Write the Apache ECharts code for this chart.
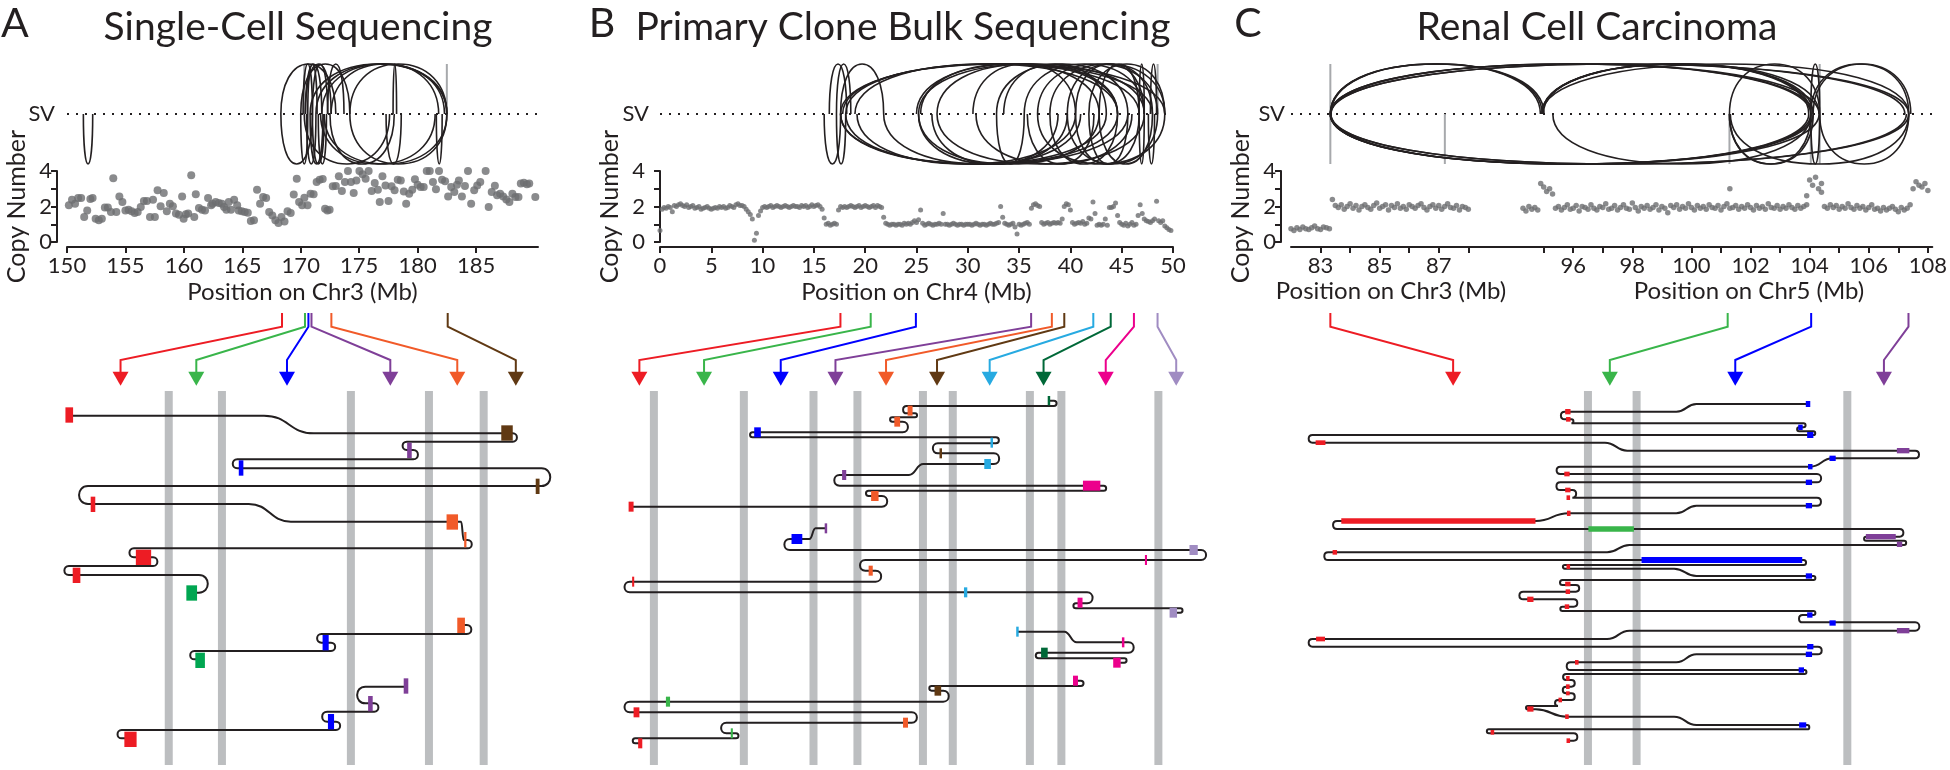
<!DOCTYPE html>
<html>
<head>
<meta charset="utf-8">
<script src="https://cdn.jsdelivr.net/npm/echarts@6.0.0/dist/echarts.min.js"></script>
<style>
  html, body { margin: 0; background: #fff; }
  #main { width: 1950px; height: 770px; }
</style>
</head>
<body>
<div id="main"></div>
<script>
const FONT = 'Lato, "Open Sans", sans-serif';
const INK = '#231f20';
const DOT = '#6d6e71';
const BAR = '#bcbec0';
const COLORS = {
  red: '#ed1c24', green: '#39b54a', dgreen: '#00a651', blue: '#0000ff', purple: '#7f3f98',
  orange: '#f15a29', brown: '#603913', cyan: '#27aae1', forest: '#006838', magenta: '#ec008c', lilac: '#a08cc2'
};

// ---- copy number, panel A (Mb, copy number)
const cnA = [
  [150.16,2.07],[150.43,2.38],[150.69,2.16],[150.95,2.48],[151.21,2.48],[151.47,1.41],[151.73,1.78],[152.0,2.42],
  [152.19,2.48],[152.45,1.31],[152.72,1.22],[152.98,1.31],[153.24,1.95],[153.5,1.95],[153.76,1.69],[153.96,3.59],
  [154.22,1.69],[154.48,2.57],[154.74,2.25],[155.0,1.78],[155.27,1.82],[155.53,1.73],[155.79,1.63],[156.05,1.69],
  [156.31,1.97],[156.58,2.31],[156.84,2.31],[157.1,1.41],[157.36,2.38],[157.52,1.41],[157.75,2.91],[158.01,2.01],
  [158.28,2.76],[158.54,1.73],[158.8,2.16],[159.06,2.01],[159.32,1.6],[159.58,1.54],[159.85,2.57],[159.98,1.31],
  [160.17,1.56],[160.37,1.6],[160.63,3.76],[160.89,1.41],[161.02,2.69],[161.29,1.92],[161.55,1.82],[161.81,1.78],
  [162.07,2.48],[162.33,2.07],[162.46,2.16],[162.72,2.25],[162.99,2.2],[163.25,2.16],[163.44,1.97],[163.64,1.82],
  [163.84,2.25],[164.03,1.82],[164.3,2.38],[164.56,2.07],[164.69,1.78],[164.95,1.73],[165.21,1.69],[165.47,1.65],
  [165.73,1.18],[166.0,1.22],[166.26,2.95],[166.52,2.16],[166.78,2.54],[167.04,2.48],[167.3,1.69],[167.57,1.5],
  [167.83,1.22],[168.09,1.07],[168.35,1.41],[168.61,1.16],[168.87,1.73],[169.14,1.63],[169.4,2.67],[169.66,3.57],
  [169.86,2.25],[170.12,2.07],[170.31,2.5],[170.58,2.07],[170.84,2.72],[171.1,2.69],[171.36,3.38],[171.62,3.51],
  [171.88,3.55],[172.08,1.88],[172.28,1.78],[172.47,1.82],[172.74,3.14],[173.0,3.15],[173.26,3.7],[173.52,2.87],
  [173.78,3.38],[174.04,4.0],[174.3,3.38],[174.53,2.76],[174.76,3.47],[175.02,4.0],[175.29,3.81],[175.55,3.57],
  [175.81,4.0],[176.07,2.87],[176.33,3.32],[176.6,2.95],[176.76,2.25],[176.99,3.7],[177.25,3.19],[177.51,2.31],
  [177.77,3.14],[178.03,2.91],[178.3,3.51],[178.56,3.47],[178.82,2.85],[179.02,2.16],[179.28,2.72],[179.54,2.95],
  [179.77,3.53],[180.0,3.23],[180.26,3.1],[180.52,3.1],[180.78,4.0],[181.04,4.0],[181.31,3.38],[181.57,2.97],
  [181.83,4.0],[182.09,3.51],[182.35,3.42],[182.61,2.57],[182.87,3.1],[183.14,2.82],[183.37,3.23],[183.53,3.47],
  [183.79,2.57],[184.05,3.15],[184.31,4.0],[184.58,2.16],[184.84,2.91],[185.1,3.19],[185.36,3.38],[185.82,4.0],
  [186.08,1.97],[186.34,2.82],[186.61,3.17],[186.8,2.63],[187.06,2.72],[187.32,2.57],[187.59,2.4],[187.85,2.25],
  [188.11,2.72],[188.37,2.54],[188.63,2.54],[188.83,3.29],[189.09,3.34],[189.35,3.25],[189.55,3.29],[190.07,2.54]
];

// ---- copy number, panel B: one value every 0.2 Mb from 0 Mb
const cnBStep = 0.2;
const cnB = [
  0.65,1.85,1.95,1.9,2.0,  1.95,1.7,2.05,2.0,2.1,  2.15,2.05,2.0,2.1,1.95,  2.0,2.05,1.9,1.95,2.0,
  1.85,1.9,1.95,2.0,1.9,  1.85,1.9,1.95,1.9,2.0,  1.95,2.0,1.9,1.95,2.05,  2.0,1.95,2.1,2.15,2.05,
  2.05,2.0,1.85,1.7,1.55,  1.3,0.1,0.5,1.5,1.75,  1.95,2.0,1.95,2.0,2.05,  1.95,2.0,2.05,2.0,1.95,
  2.0,2.05,2.0,1.95,2.0,  2.05,2.0,2.0,1.95,2.05,  2.0,2.05,1.95,2.0,2.1,  2.0,2.05,2.1,2.0,1.85,
  1.35,1.0,1.05,0.95,1.0,  1.05,1.0,1.8,2.0,1.95,  2.0,1.95,2.0,2.05,2.0,  1.95,2.0,2.05,1.95,2.0,
  2.05,2.0,1.95,2.0,2.05,  1.95,2.05,2.0,1.95,1.4,  1.05,1.0,0.95,1.0,1.0,  0.95,1.0,1.0,0.95,1.05,
  1.0,1.05,1.0,1.1,1.2,  1.1,1.25,1.8,1.05,0.95,  1.0,1.05,1.0,0.95,1.0,  1.0,1.05,1.0,1.6,1.0,
  1.0,0.95,1.0,1.05,1.0,  0.95,1.0,1.0,0.95,1.0,  1.0,1.0,0.95,1.0,1.05,  1.0,0.95,1.0,1.0,0.95,
  1.0,1.05,1.0,1.0,1.05,  1.1,2.0,1.4,1.05,1.0,  0.95,1.0,1.05,0.85,0.45,  1.0,0.95,1.0,1.05,1.1,
  1.0,1.9,2.1,2.15,2.05,  2.0,1.1,1.0,1.05,1.1,  1.0,1.05,1.1,1.05,1.1,  1.05,1.3,2.0,2.15,2.1,
  1.8,1.1,1.0,1.05,1.1,  1.05,1.15,1.0,1.05,1.35,  1.3,2.25,1.6,0.95,1.0,  0.95,1.0,1.3,0.95,1.95,
  1.95,2.0,2.2,1.5,1.1,  1.0,0.95,1.05,0.9,1.0,  1.1,0.95,1.0,1.5,2.1,  1.6,1.3,1.2,1.15,1.1,
  1.2,1.3,2.3,1.2,1.1,  1.2,0.9,0.8,0.7,0.65
];

// ---- copy number, panel C: segments [start Mb, values every 0.1 Mb]
const cnCStep = 0.1;
const cnC3 = [
  [82.0, [0.75,0.65,0.8,0.7,0.85,0.75,0.7,0.8,0.9,0.75,0.7,0.85,0.8,0.75]],
  [83.4, [2.4,2.05,1.95,2.1,1.85,2.0,2.15,1.9,2.05,1.8,2.0,2.1,1.95,1.85,2.05,2.2,1.9,2.0,2.1,1.8,
          2.05,1.95,2.15,1.9,2.0,1.85,2.1,2.0,1.9,2.05,2.15,1.95,1.8,2.0,2.1,1.9,2.05,1.85,2.0,2.15,
          1.95,1.9,2.05,1.8,2.0,1.95,1.85]]
];
const cnC5 = [
  [94.3, [1.9,1.75,2.0,1.85,1.95,1.8]],
  [94.9, [3.3,3.1,2.85,3.0,2.7]],
  [95.4, [1.9,2.0,1.8,1.95,2.1,1.85,1.9,2.05,1.75,2.0,1.95,1.85,2.1,1.9,1.8,2.0,1.95,2.15,1.85,1.9,
          2.05,1.8,1.95,2.1,1.9,1.85,2.2,1.95,1.75,2.0,1.9,2.05,1.85,1.95,2.1,1.8,2.0,1.9,1.65,2.05,
          1.95,2.1,1.85,2.0,1.9,2.15,1.95,1.8,2.05,1.9,2.0,1.85,2.1,1.95,1.9,2.05,1.8,2.0,2.15,1.9,
          1.95,2.05,1.85,2.0,1.9,2.1,1.95,1.8,2.05,1.9,2.0,1.85,2.15,1.95,1.9,2.05,1.85,2.0,1.9,2.1,
          1.95,1.85,2.05,1.9,2.0,2.1]],
  [104.0, [3.5,3.2,3.65,3.0,3.3]],
  [104.5, [2.0,1.9,2.1,1.95,2.05,1.85,2.0,1.9,2.15,1.95,1.85,2.05,1.9,2.0,1.8,1.95,2.1,1.85,1.9,1.75,
           1.95,1.8,1.9,2.0,1.85,1.7,1.95,1.8,1.9,2.1]],
  [107.5, [3.0,3.4,3.2,3.1,3.3,2.9]]
];
const cnC5Single = [[101.3, 3.0], [103.9, 2.6], [104.4, 2.8]];
// gap between the Chr3 and Chr5 stretches of the panel C axis (Mb of axis length)
const C_GAP = 4.45;

// ---- structural variant arcs [from, to, 1 above / -1 below]
const arcsA = [
  [151.4,152.2,-1],
  [168.3,173.0,1],[170.0,174.2,1],[170.4,172.6,1],[170.8,182.5,1],[171.3,182.5,1],[171.8,182.3,1],[172.3,173.7,1],
  [170.4,171.8,1],[174.2,182.5,1],[172.6,181.8,1],[177.9,178.2,1],[170.2,171.0,1],[171.0,172.3,1],[170.6,171.4,1],
  [168.3,171.0,-1],[170.0,170.6,-1],[170.5,171.3,-1],[171.0,172.0,-1],[171.5,172.2,-1],[172.0,182.5,-1],[174.2,182.5,-1],
  [170.3,177.6,-1],[177.3,178.6,-1],[181.6,182.1,-1],[171.7,181.5,-1],[172.5,178.0,-1],[170.8,171.9,-1]
];
const grayA = [[170.3,1],[182.5,1]];
const arcsB = [
  [16.5,18.2,1],[17.2,18.6,1],[17.6,21.8,1],[17.6,49.2,1],[17.8,48.0,1],[18.1,46.7,1],[19.0,44.6,1],[25.2,47.2,1],
  [25.0,44.6,1],[25.4,42.8,1],[36.8,48.5,1],[38.0,49.2,1],[39.7,48.0,1],[40.5,47.2,1],[41.8,49.2,1],[32.8,45.6,1],
  [27.0,44.6,1],[35.5,47.2,1],[42.8,46.7,1],[46.7,47.2,1],[47.8,48.4,1],[33.5,43.5,1],[30.5,40.5,1],
  [16.0,17.6,-1],[17.2,18.1,-1],[17.6,45.6,-1],[17.6,44.6,-1],[18.1,43.5,-1],[19.2,40.5,-1],[25.2,42.8,-1],[25.2,39.7,-1],
  [27.0,47.2,-1],[32.8,35.5,-1],[36.8,49.2,-1],[38.0,44.6,-1],[39.7,48.5,-1],[40.5,46.7,-1],[41.8,45.6,-1],[42.8,48.0,-1],
  [46.7,47.2,-1],[47.6,48.2,-1],[21.8,41.0,-1],[26.5,38.8,-1],[35.8,42.3,-1],[30.8,46.0,-1]
];
const grayB = [[48.5,1]];
// panel C arcs: [chr, Mb, chr, Mb, side]
const arcsC = [
  [3,83.33,5,94.94,1],[3,83.33,5,94.88,1],[3,83.35,5,95.0,1],
  [3,83.33,5,104.02,1],[3,83.33,5,104.1,1],[3,83.35,5,104.3,1],
  [3,83.33,5,107.33,1],[3,83.35,5,107.2,1],
  [5,94.94,5,104.02,1],[5,94.94,5,104.1,1],[5,94.98,5,103.95,1],[5,94.94,5,104.3,1],[5,94.94,5,107.33,1],
  [5,101.27,5,104.32,1],[5,104.02,5,107.33,1],[5,104.1,5,107.4,1],[5,104.02,5,104.32,1],
  [3,83.33,5,104.02,-1],[3,83.33,5,103.95,-1],[3,83.35,5,104.1,-1],[3,83.33,5,104.3,-1],
  [3,83.33,5,107.33,-1],[3,83.35,5,107.25,-1],[5,95.3,5,104.02,-1],
  [5,101.27,5,104.02,-1],[5,101.27,5,104.1,-1],[5,104.32,5,107.33,-1],[5,104.02,5,104.32,-1],[5,101.3,5,107.33,-1]
];
const grayC = [[3,83.33,2],[3,87.2,-1],[5,101.27,-1],[5,104.02,-1],[5,104.32,2]];

// ---- rearrangement walks (schematic units of each lower panel)
const arrowsA = [[737,315,'red'],[797,513,'green'],[806,750,'blue'],[814,1020,'purple'],[866,1195,'orange'],[1170,1348,'brown']];
const barsA = [441,580,917,1121,1264];
const walksA = [
  [[181,287],[690,287],[820,340],[1340,340],[1340,365],[1063,365],[1063,390],[1080,390],[1080,418],[620,418],[620,445],
   [1415,445],[1415,498],[230,498],[230,552],[650,552],[760,605],[1205,605],[1212,660],[1222,660],[1222,685],[350,685],
   [350,712],[400,712],[400,738],[180,738],[180,765],[520,765],[520,818],[505,818]],
  [[1205,915],[1220,915],[1220,942],[840,942],[840,968],[865,968],[865,993],[508,993],[508,1018],[523,1018]],
  [[1060,1100],[955,1100],[955,1150],[978,1150],[978,1175],[855,1175],[855,1205],[878,1205],[878,1230],[318,1230],[318,1255],[341,1255]]
];
const blocksA = [
  [181,285,20,46,'red'],[1325,339,30,46,'brown'],[1070,391,12,46,'purple'],[630,444,12,46,'blue'],[1405,499,10,46,'brown'],
  [243,553,12,46,'red'],[1182,606,30,46,'orange'],[1216,659,6,46,'orange'],[375,712,40,46,'red'],[200,766,20,46,'red'],
  [501,819,28,46,'dgreen'],[1205,916,20,46,'orange'],[851,968,16,46,'blue'],[523,1021,25,46,'dgreen'],
  [1061,1098,12,46,'purple'],[968,1151,12,46,'purple'],[865,1205,16,46,'blue'],[341,1258,32,46,'red']
];

const arrowsB = [[580,95,'red'],[653,251,'green'],[762,436,'blue'],[1040,568,'purple'],[1090,690,'orange'],[1120,813,'brown'],
  [1190,940,'cyan'],[1232,1070,'forest'],[1288,1220,'magenta'],[1345,1390,'lilac']];
const barsB = [130,347,515,621,779,851,1037,1113,1347];
const walksB = [
  [[1083,242],[1095,242],[1095,258],[740,258],[740,280],[760,280],[760,292],[705,292],[705,305],[730,305],[730,337],[368,337],
   [368,352],[955,352],[955,370],[815,370],[815,400],[950,400],[950,432],[780,432],[745,465],[578,465],[578,497],[1215,497],
   [1215,512],[648,512],[648,528],[680,528],[680,560],[75,560]],
  [[545,625],[520,625],[505,657],[458,657],[458,690],[1450,690],[1450,720],[640,720],[640,752],[665,752],[665,785],[72,785],
   [72,817],[1175,817],[1175,850],[1148,850],[1148,865],[1400,865],[1400,878],[1390,878]],
  [[1007,935],[1120,935],[1150,967],[1275,967],[1275,998],[1058,998],[1058,1015],[1265,1015],[1265,1028],[1255,1028]],
  [[1147,1082],[1160,1082],[1160,1098],[800,1098],[800,1112],[828,1112],[828,1145],[72,1145],[72,1177],[752,1177],[752,1208],
   [305,1208],[305,1240],[328,1240],[328,1255],[85,1255],[85,1270],[98,1270]]
];
const blocksB = [
  [1083,242,6,28,'forest'],[748,272,12,30,'orange'],[717,305,14,30,'orange'],[380,337,16,30,'blue'],[945,368,6,30,'cyan'],
  [822,400,6,30,'brown'],[935,432,16,30,'cyan'],[589,465,10,30,'purple'],[1186,497,42,30,'magenta'],[663,528,18,30,'orange'],
  [75,560,12,30,'red'],[545,625,6,30,'purple'],[475,657,26,30,'blue'],[1432,690,20,30,'lilac'],[1317,720,5,30,'magenta'],
  [653,752,10,30,'orange'],[80,785,5,30,'red'],[882,817,8,30,'cyan'],[1158,848,12,30,'magenta'],[1383,878,18,30,'lilac'],
  [1007,935,6,30,'cyan'],[1262,967,6,30,'magenta'],[1072,998,16,30,'forest'],[1247,1028,18,30,'magenta'],
  [1147,1082,12,30,'magenta'],[815,1112,16,30,'brown'],[164,1145,10,30,'green'],[88,1177,14,30,'red'],
  [737,1208,12,30,'orange'],[318,1240,5,30,'green'],[97,1270,10,30,'red']
];

const arrowsC = [[180,455,'red'],[1070,806,'green'],[1257,1087,'blue'],[1475,1420,'purple']];
const barsC = [757,866,1338];
const walksC = [
  [[1250,252],[1000,252],[955,275],[705,275],[705,298],[720,298],[720,310],[1240,310],[1240,322],[1230,322],[1230,334],
   [1262,334],[1262,345],[140,345],[140,368],[795,368],[845,392],[1490,392],[1490,415],[1305,415],[1255,440],[695,440],
   [695,462],[1270,462],[1270,487],[695,487],[695,510],[722,510],[722,533],[1270,533],[1270,557],[1000,557],[955,580],
   [714,580],[640,603],[195,603],[195,627],[1455,627],[1455,650],[1380,650],[1380,662],[1465,662],[1465,675],[850,675],
   [800,697],[175,697],[175,720],[1240,720],[1240,735],[705,735],[705,746],[950,746],[1000,768],[1262,768],[1262,780],
   [700,780],[700,795],[730,795],[730,815],[612,815],[612,838],[725,838],[725,860],[700,860],[700,873],[1262,873],
   [1262,885],[1238,885],[1238,907],[1490,907],[1490,932],[850,932],[800,957],[140,957],[140,980],[1272,980],[1272,1003],
   [1000,1003],[955,1027],[718,1027],[718,1050],[1242,1050],[1242,1062],[708,1062],[708,1080],[720,1080],[720,1100],
   [708,1100],[708,1120],[720,1120],[720,1140],[690,1140],[690,1158],[622,1158],[622,1168],[640,1168],[710,1190],
   [950,1190],[1000,1215],[1248,1215],[1248,1228],[535,1228],[535,1240],[725,1240],[725,1262],[713,1262]]
];
const blocksC = [
  [1250,252,10,18,'blue'],[712,275,12,16,'red'],[713,298,10,14,'red'],[1233,322,10,16,'blue'],[1255,345,14,18,'blue'],
  [158,368,22,14,'red'],[1463,392,28,16,'purple'],[1305,415,14,16,'blue'],[1255,440,10,16,'blue'],[710,462,12,14,'red'],
  [1252,487,14,16,'blue'],[712,510,12,14,'red'],[713,533,8,14,'red'],[1252,557,14,16,'blue'],[714,580,8,16,'red'],
  [422,603,435,16,'red'],[809,627,102,16,'green'],[1413,650,67,16,'purple'],[1455,673,12,16,'purple'],[190,697,10,14,'red'],
  [1057,720,360,18,'blue'],[713,740,8,14,'red'],[1252,768,14,16,'blue'],[712,792,12,14,'red'],[712,815,10,14,'red'],
  [628,838,14,16,'red'],[710,860,10,14,'red'],[1254,885,12,16,'blue'],[1305,909,14,16,'blue'],[1463,932,28,16,'purple'],
  [158,957,20,14,'red'],[1255,980,14,16,'blue'],[1252,1003,14,16,'blue'],[732,1027,8,14,'red'],[1235,1050,12,16,'blue'],
  [712,1075,8,14,'red'],[712,1100,8,14,'red'],[712,1120,8,12,'red'],[695,1140,8,14,'red'],[628,1167,14,16,'red'],
  [710,1190,8,14,'red'],[1238,1215,16,16,'blue'],[543,1237,8,14,'red'],[713,1262,8,14,'red']
];

// ---- axis ticks
const ticksA = [150,155,160,165,170,175,180,185];
const ticksB = [0,5,10,15,20,25,30,35,40,45,50];
const ticksC3 = [83,84,85,86,87,88];
const labelsC3 = [83,85,87];
const ticksC5 = [95,96,97,98,99,100,101,102,103,104,105,106,107,108];
const labelsC5 = [96,98,100,102,104,106,108];

// ---------------------------------------------------------------------------
const cx = (chr, pos) => (chr === 5 ? pos - C_GAP : pos);

function segPoints(segs, step, shift) {
  const out = [];
  segs.forEach(([start, vals]) => vals.forEach((v, i) => out.push([start + i * step - shift, v])));
  return out;
}
const cnBData = cnB.map((v, i) => [i * cnBStep, v]);
const cnCData = segPoints(cnC3, cnCStep, 0)
  .concat(segPoints(cnC5, cnCStep, C_GAP))
  .concat(cnC5Single.map(p => [p[0] - C_GAP, p[1]]));

const arcsCx = arcsC.map(a => [cx(a[0], a[1]), cx(a[2], a[3]), a[4]]);
const grayCx = grayC.map(g => [cx(g[0], g[1]), g[2]]);

const grids = [
  { left: 67, top: 171, width: 471, height: 71 },
  { left: 660, top: 171, width: 513, height: 71 },
  { left: 1291, top: 171, width: 642, height: 71 },
  { left: 67, top: 64, width: 471, height: 100 },
  { left: 660, top: 64, width: 513, height: 100 },
  { left: 1291, top: 64, width: 642, height: 100 },
  { left: 0, top: 300, width: 600, height: 470 },
  { left: 600, top: 300, width: 650, height: 470 },
  { left: 1250, top: 300, width: 700, height: 470 }
];
const xRanges = [[150, 190.3], [0, 50], [82, 103.7]];

function cnXAxis(i, name, ticks, labels, fmt) {
  return {
    type: 'value', gridIndex: i, min: xRanges[i][0], max: xRanges[i][1], offset: 5,
    axisLine: { show: true, onZero: false, lineStyle: { color: INK, width: 2 } },
    axisTick: { show: true, length: 6, customValues: ticks, lineStyle: { color: INK, width: 2 } },
    axisLabel: { show: true, color: INK, fontSize: 22, fontFamily: FONT, margin: 8, customValues: labels, formatter: fmt },
    splitLine: { show: false },
    name: name, nameLocation: 'middle', nameGap: 33,
    nameTextStyle: { color: INK, fontSize: 24, fontFamily: FONT }
  };
}
function cnYAxis(i) {
  return {
    type: 'value', gridIndex: i, min: 0, max: 4, interval: 1, offset: 10,
    axisLine: { show: true, lineStyle: { color: INK, width: 2 } },
    axisTick: { show: true, length: 6, lineStyle: { color: INK, width: 2 } },
    axisLabel: { color: INK, fontSize: 22, fontFamily: FONT, margin: 5, formatter: v => (v % 2 === 0 ? String(v) : '') },
    splitLine: { show: false },
    name: 'Copy Number', nameLocation: 'middle', nameRotate: 90, nameGap: 28,
    nameTextStyle: { color: INK, fontSize: 25, fontFamily: FONT }
  };
}
function arcYAxis(i, margin) {
  return {
    type: 'value', gridIndex: i, min: -1, max: 1, interval: 1,
    axisLine: { show: false }, axisTick: { show: false }, splitLine: { show: false },
    axisLabel: { color: INK, fontSize: 22, fontFamily: FONT, margin: margin, formatter: v => (v === 0 ? 'SV' : '') }
  };
}

const xAxes = [
  cnXAxis(0, 'Position on Chr3 (Mb)', ticksA, ticksA),
  cnXAxis(1, 'Position on Chr4 (Mb)', ticksB, ticksB),
  cnXAxis(2, '', ticksC3.concat(ticksC5.map(t => t - C_GAP)), labelsC3.concat(labelsC5.map(t => t - C_GAP)),
    v => String(Math.round(v > 88.5 ? v + C_GAP : v))),
  { type: 'value', gridIndex: 3, min: xRanges[0][0], max: xRanges[0][1], show: false },
  { type: 'value', gridIndex: 4, min: xRanges[1][0], max: xRanges[1][1], show: false },
  { type: 'value', gridIndex: 5, min: xRanges[2][0], max: xRanges[2][1], show: false },
  { type: 'value', gridIndex: 6, min: 0, max: 1568, show: false },
  { type: 'value', gridIndex: 7, min: 0, max: 1568, show: false },
  { type: 'value', gridIndex: 8, min: 0, max: 1568, show: false }
];
const yAxes = [
  cnYAxis(0), cnYAxis(1), cnYAxis(2),
  arcYAxis(3, 12), arcYAxis(4, 11), arcYAxis(5, 6),
  { type: 'value', gridIndex: 6, min: -60, max: 1350, inverse: true, show: false },
  { type: 'value', gridIndex: 7, min: -60, max: 1350, inverse: true, show: false },
  { type: 'value', gridIndex: 8, min: -60, max: 1350, inverse: true, show: false }
];

function scatter(i, data, size) {
  return {
    type: 'scatter', xAxisIndex: i, yAxisIndex: i, data: data, symbolSize: size,
    itemStyle: { color: DOT }, silent: true, z: 3
  };
}

// half ellipse from a[0] to a[1], above or below the SV line
function arcSeries(i, arcs, gray) {
  return [
    {
      type: 'line', xAxisIndex: i, yAxisIndex: i, symbol: 'none', silent: true, z: 1,
      data: [[xRanges[i - 3][0], 0], [xRanges[i - 3][1], 0]],
      lineStyle: { color: INK, width: 2, type: [2, 7] }
    },
    {
      type: 'custom', xAxisIndex: i, yAxisIndex: i, silent: true, z: 2,
      data: gray.map(g => [g[0], 0]),
      renderItem: (params, api) => {
        const g = gray[params.dataIndex];
        const a = api.coord([g[0], g[1] === -1 ? 0 : 1]);
        const b = api.coord([g[0], g[1] === 1 ? 0 : -1]);
        return { type: 'line', shape: { x1: a[0], y1: a[1], x2: b[0], y2: b[1] }, style: { stroke: '#a7a9ac', lineWidth: 2 } };
      }
    },
    {
      type: 'custom', xAxisIndex: i, yAxisIndex: i, silent: true, z: 3,
      data: arcs.map(a => [a[0], 0]),
      renderItem: (params, api) => {
        const a = arcs[params.dataIndex];
        const p1 = api.coord([a[0], 0]);
        const p2 = api.coord([a[1], 0]);
        const h = api.coord([a[0], a[2]])[1] - p1[1];
        const rx = (p2[0] - p1[0]) / 2, mx = (p1[0] + p2[0]) / 2, y = p1[1];
        const k = 0.6;
        const d = `M${p1[0]},${y}C${p1[0]},${y + k * h} ${mx - k * rx},${y + h} ${mx},${y + h}` +
                  `C${mx + k * rx},${y + h} ${p2[0]},${y + k * h} ${p2[0]},${y}`;
        return { type: 'path', shape: { pathData: d }, style: { fill: 'none', stroke: INK, lineWidth: 1.6 } };
      }
    }
  ];
}

function walkPath(pts, api) {
  const P = pts.map(p => api.coord(p));
  let d = `M${P[0][0]},${P[0][1]}`;
  for (let i = 1; i < P.length; i++) {
    const a = P[i - 1], b = P[i];
    if (Math.abs(a[1] - b[1]) < 0.5) {
      d += `L${b[0]},${b[1]}`;
    } else if (Math.abs(a[0] - b[0]) < 0.5) {
      let side;
      if (i >= 2) side = a[0] >= P[i - 2][0] ? 1 : -1;
      else side = P[i + 1] && P[i + 1][0] > b[0] ? -1 : 1;
      const r = Math.abs(b[1] - a[1]) / 2 * 1.33;
      d += `C${a[0] + side * r},${a[1]} ${b[0] + side * r},${b[1]} ${b[0]},${b[1]}`;
    } else {
      const m = (a[0] + b[0]) / 2;
      d += `C${m},${a[1]} ${m},${b[1]} ${b[0]},${b[1]}`;
    }
  }
  return d;
}

function walkSeries(i, bars, arrows, walks, blocks) {
  return [
    {
      type: 'custom', xAxisIndex: i, yAxisIndex: i, silent: true, z: 1,
      data: bars.map(x => [x, 213]),
      renderItem: (params, api) => {
        const x = bars[params.dataIndex];
        const a = api.coord([x, 213]), b = api.coord([x, 1335]);
        return { type: 'rect', shape: { x: a[0] - 4, y: a[1], width: 8, height: b[1] - a[1] }, style: { fill: BAR } };
      }
    },
    {
      type: 'custom', xAxisIndex: i, yAxisIndex: i, silent: true, z: 2,
      data: arrows.map(a => [a[1], 155]),
      renderItem: (params, api) => {
        const [top, tip, col] = arrows[params.dataIndex];
        const pts = [[top, -21], [top, 20], [tip, 120], [tip, 157]].map(p => api.coord(p));
        const t = api.coord([tip, 155]);
        return {
          type: 'group', children: [
            { type: 'polyline', shape: { points: pts }, style: { fill: 'none', stroke: COLORS[col], lineWidth: 2 } },
            { type: 'polygon', shape: { points: [[t[0] - 8, t[1]], [t[0] + 8, t[1]], [t[0], t[1] + 14]] }, style: { fill: COLORS[col] } }
          ]
        };
      }
    },
    {
      type: 'custom', xAxisIndex: i, yAxisIndex: i, silent: true, z: 3,
      data: walks.map(w => w[0]),
      renderItem: (params, api) => ({
        type: 'path', shape: { pathData: walkPath(walks[params.dataIndex], api) },
        style: { fill: 'none', stroke: INK, lineWidth: 2 }
      })
    },
    {
      type: 'custom', xAxisIndex: i, yAxisIndex: i, silent: true, z: 4,
      data: blocks.map(b => [b[0], b[1]]),
      renderItem: (params, api) => {
        const b = blocks[params.dataIndex];
        const c = api.coord([b[0], b[1]]);
        const s = api.size([b[2], b[3]]);
        const w = Math.abs(s[0]), h = Math.abs(s[1]);
        return { type: 'rect', shape: { x: c[0] - w / 2, y: c[1] - h / 2, width: w, height: h }, style: { fill: COLORS[b[4]] } };
      }
    }
  ];
}

function txt(text, x, y, size, align) {
  return {
    type: 'text', x: x, y: y, silent: true,
    style: { text: text, fill: INK, fontSize: size, fontFamily: FONT, align: align || 'center', verticalAlign: 'middle' }
  };
}

const chart = echarts.init(document.getElementById('main'));
chart.setOption({
  animation: false,
  backgroundColor: '#fff',
  grid: grids,
  xAxis: xAxes,
  yAxis: yAxes,
  graphic: [
    txt('A', 15, 24, 41), txt('Single-Cell Sequencing', 298, 27, 39),
    txt('B', 602, 24, 41), txt('Primary Clone Bulk Sequencing', 903, 27, 39),
    txt('C', 1248, 24, 41), txt('Renal Cell Carcinoma', 1597, 27, 39),
    txt('Position on Chr3 (Mb)', 1391, 291, 24), txt('Position on Chr5 (Mb)', 1749, 291, 24)
  ],
  series: [
    scatter(0, cnA, 8),
    scatter(1, cnBData, 5),
    scatter(2, cnCData, 5.5),
    ...arcSeries(3, arcsA, grayA),
    ...arcSeries(4, arcsB, grayB),
    ...arcSeries(5, arcsCx, grayCx),
    ...walkSeries(6, barsA, arrowsA, walksA, blocksA),
    ...walkSeries(7, barsB, arrowsB, walksB, blocksB),
    ...walkSeries(8, barsC, arrowsC, walksC, blocksC)
  ]
});
</script>
</body>
</html>
